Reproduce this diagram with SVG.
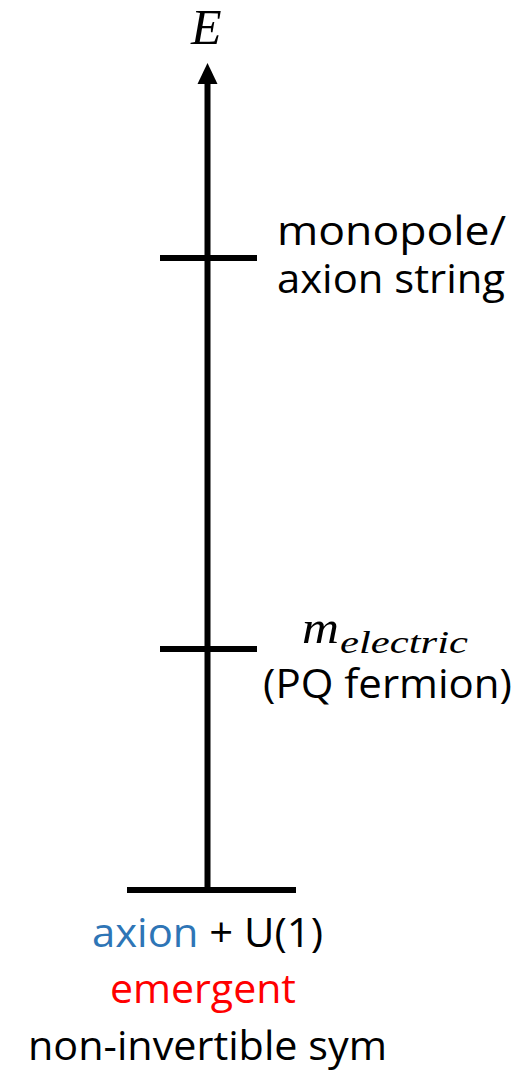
<svg xmlns="http://www.w3.org/2000/svg" width="528" height="1071" viewBox="0 0 528 1071">
<style>
.ln{stroke:#000;stroke-width:6;fill:none}
.t{font-family:"Open Sans","Liberation Sans",sans-serif;font-size:40px;fill:#000}
.m{font-family:"Liberation Serif","DejaVu Serif",serif;font-style:italic;fill:#000}
</style>
<rect width="528" height="1071" fill="#fff"/>
<g id="connectors">
<line class="ln" x1="207.5" y1="890" x2="207.5" y2="82"/>
<path d="M197.5,84 L207.5,63 L217.5,84 Z" fill="#000"/>
</g>
<g id="axis-label">
<text class="m" x="191" y="44" font-size="50">E</text>
</g>
<g id="level-monopole">
<line class="ln" x1="160" y1="258" x2="257" y2="258"/>
<text class="t" x="277" y="245" textLength="229" lengthAdjust="spacingAndGlyphs">monopole/</text>
<text class="t" x="277" y="293" textLength="228" lengthAdjust="spacingAndGlyphs">axion string</text>
</g>
<g id="level-electric">
<line class="ln" x1="160" y1="649" x2="257" y2="649"/>
<text class="m" x="302" y="643" font-size="46" textLength="37" lengthAdjust="spacingAndGlyphs">m</text>
<text class="m" x="340" y="653" font-size="32" textLength="128" lengthAdjust="spacingAndGlyphs">electric</text>
<text class="t" x="263" y="698" textLength="249" lengthAdjust="spacingAndGlyphs">(PQ fermion)</text>
</g>
<g id="level-bottom">
<line class="ln" x1="127" y1="890" x2="296" y2="890"/>
<text class="t" x="92" y="947" textLength="231" lengthAdjust="spacingAndGlyphs"><tspan fill="#2E75B6">axion</tspan> + U(1)</text>
<text class="t" x="110" y="1003" style="fill:#FF0000" textLength="186" lengthAdjust="spacingAndGlyphs">emergent</text>
<text class="t" x="28" y="1060" textLength="359" lengthAdjust="spacingAndGlyphs">non-invertible sym</text>
</g>
</svg>
